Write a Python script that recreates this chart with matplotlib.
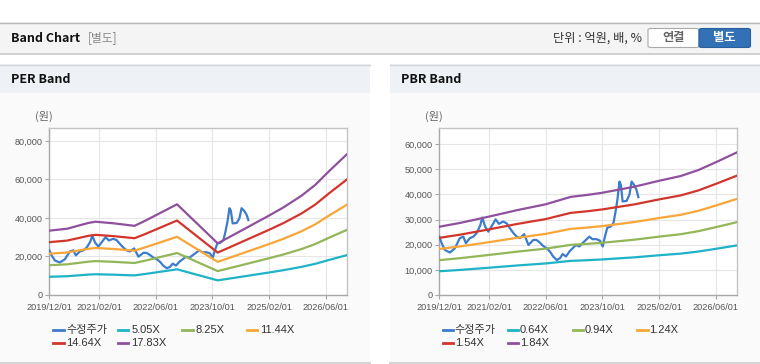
import pandas as pd
import matplotlib
matplotlib.use("Agg")
import matplotlib.pyplot as plt
from matplotlib.patches import Rectangle, FancyBboxPatch
from matplotlib.lines import Line2D

plt.rcParams['font.family'] = ['Liberation Sans', 'Noto Sans CJK KR']

W, H = 760, 364

# 수정주가 (same series in both panels)
price_dates = ['2019-12-01', '2019-12-21', '2020-01-18', '2020-03-01', '2020-04-13', '2020-05-25',
               '2020-06-24', '2020-07-16', '2020-08-19', '2020-09-18', '2020-10-16', '2020-11-15',
               '2020-12-04', '2020-12-28', '2021-01-25', '2021-02-24', '2021-03-28', '2021-04-25',
               '2021-06-01', '2021-07-01', '2021-07-28', '2021-08-28', '2021-09-25', '2021-10-22',
               '2021-11-28', '2022-01-04', '2022-02-15', '2022-03-13', '2022-04-13', '2022-05-10',
               '2022-06-10', '2022-07-07', '2022-08-04', '2022-09-04', '2022-10-01', '2022-10-25',
               '2022-11-22', '2022-12-22', '2023-01-19', '2023-02-16', '2023-03-16', '2023-04-13',
               '2023-05-12', '2023-06-10', '2023-07-07', '2023-08-12', '2023-09-10', '2023-10-03',
               '2023-10-22', '2023-11-12', '2023-12-10', '2024-01-03', '2024-01-19', '2024-02-06',
               '2024-02-24', '2024-03-07', '2024-03-22', '2024-04-25', '2024-05-19', '2024-06-07',
               '2024-06-28', '2024-07-19', '2024-08-04']
price = [23200, 20600, 17900, 16900, 18600, 22600,
         23200, 20600, 22600, 23200, 24600, 27500,
         30800, 27200, 25200, 27500, 30100, 28300,
         29200, 28500, 26600, 24600, 23200, 22600,
         24200, 19900, 21900, 21900, 20800, 19500,
         18600, 17300, 15300, 13900, 14600, 16300,
         15300, 17300, 18600, 19900, 19300, 20600,
         21900, 23200, 22200, 22200, 21600, 19300,
         23200, 26800, 27200, 28500, 32500, 37800,
         45100, 43800, 37200, 37400, 39800, 45100,
         43800, 41800, 38900]

# PER band base (EPS) and multiples
eps_dates = ['2019-12-01', '2020-05-01', '2020-11-01', '2021-01-01', '2021-06-01', '2021-12-01',
             '2022-03-01', '2022-12-01', '2023-11-15', '2024-05-01', '2025-02-01', '2025-06-01',
             '2025-11-01', '2026-03-01', '2026-07-01', '2026-12-01']
eps = [1875, 1930, 2100, 2135, 2090, 2015, 2160, 2643, 1505, 1812, 2320, 2552,
       2888, 3208, 3620, 4111]
per_labels = ['5.05X', '8.25X', '11.44X', '14.64X', '17.83X']
per_mult = [5.05, 8.25, 11.44, 14.64, 17.83]

# PBR band base (BPS) and multiples
bps_dates = ['2019-12-01', '2020-06-01', '2021-02-01', '2021-10-01', '2022-06-01', '2023-01-01',
             '2023-06-01', '2023-10-01', '2024-07-01', '2025-02-01', '2025-08-01', '2026-01-01',
             '2026-06-01', '2026-12-01']
bps = [14750, 15600, 16950, 18350, 19600, 21200, 21650, 22100, 23400, 24700, 25700, 27000, 28700, 30850]
pbr_labels = ['0.64X', '0.94X', '1.24X', '1.54X', '1.84X']
pbr_mult = [0.64, 0.94, 1.24, 1.54, 1.84]

tick_dates = ['2019-12-01', '2021-02-01', '2022-06-01', '2023-10-01', '2025-02-01', '2026-06-01']

price_color = '#3d7ccc'
band_colors = ['#1eb3c7', '#92b658', '#f7a637', '#d3352c', '#8f509e']


def fx(x):
    return x / W


def fy(y):
    return 1 - y / H


def rect(x0, y0, x1, y1, color, **kw):
    fig.patches.append(Rectangle((fx(x0), fy(y1)), (x1 - x0) / W, (y1 - y0) / H,
                                 transform=fig.transFigure, facecolor=color,
                                 edgecolor='none', zorder=-10, **kw))


def hline(x0, x1, y, color, lw=1):
    fig.lines.append(Line2D([fx(x0), fx(x1)], [fy(y), fy(y)], transform=fig.transFigure,
                            color=color, lw=lw, zorder=-5))


fig = plt.figure(figsize=(W / 100, H / 100), dpi=100)
fig.patch.set_facecolor('white')

# top header
rect(0, 22, W, 53, '#f4f4f4')
hline(0, W, 22.5, '#b8b8b8')
hline(0, W, 53.5, '#c8c8c8', lw=1.2)
fig.text(fx(11), fy(38), 'Band Chart', fontsize=9, fontweight='bold', color='#111',
         family=['Noto Sans CJK KR'], va='center')
fig.text(fx(88), fy(38), '[별도]', fontsize=8.5, color='#888', family=['Noto Sans CJK KR'], va='center')
fig.text(fx(642), fy(38), '단위 : 억원, 배, %', fontsize=8.8, color='#333',
         family=['Noto Sans CJK KR', 'DejaVu Sans'], va='center', ha='right')

fig.patches.append(FancyBboxPatch((fx(648), fy(47.5)), 51 / W, 19 / H,
                                  boxstyle='round,pad=0,rounding_size=0.004',
                                  transform=fig.transFigure, facecolor='white',
                                  edgecolor='#aaaaaa', lw=0.8))
fig.patches.append(FancyBboxPatch((fx(699), fy(47.5)), 51.5 / W, 19 / H,
                                  boxstyle='round,pad=0,rounding_size=0.004',
                                  transform=fig.transFigure, facecolor='#3371b6',
                                  edgecolor='#2a5f9e', lw=0.8))
fig.text(fx(673.5), fy(38), '연결', fontsize=8.8, fontweight='bold', color='#666',
         family=['Noto Sans CJK KR'], ha='center', va='center')
fig.text(fx(724.5), fy(38), '별도', fontsize=8.8, fontweight='bold', color='white',
         family=['Noto Sans CJK KR'], ha='center', va='center')


def draw_panel(px0, px1, title):
    rect(px0, 64, px1, 93, '#eef1f6')
    rect(px0, 93, px1, 362, '#fafafa')
    hline(px0, px1, 64.5, '#d4d4d4')
    hline(px0, px1, 362.5, '#d4d4d4', lw=1.5)
    fig.text(fx(px0 + 11), fy(79.5), title, fontsize=9, fontweight='bold', color='#111',
             family=['Noto Sans CJK KR'], va='center')


def draw_chart(ax_x0, base_dates, base, mults, labels, ymax, ystep, leg):
    ax = fig.add_axes([fx(ax_x0), fy(295), 298 / W, 167 / H])
    ax.set_zorder(2)
    ax.set_facecolor('white')
    ax.plot(pd.to_datetime(price_dates), price, color=price_color, lw=1.6, zorder=3)
    bd = pd.to_datetime(base_dates)
    for m, c in zip(mults, band_colors):
        ax.plot(bd, [v * m for v in base], color=c, lw=1.6, zorder=3)
    ax.set_xlim(pd.Timestamp('2019-12-01'), pd.Timestamp('2026-12-01'))
    ax.set_ylim(0, ymax)
    ticks = list(range(0, int(ymax), ystep))
    ax.set_yticks(ticks)
    ax.set_yticklabels([f'{t:,}' for t in ticks])
    td = pd.to_datetime(tick_dates)
    ax.set_xticks(td)
    ax.set_xticklabels([d.strftime('%Y/%m/%d') for d in td])
    ax.grid(True, color='#e6e6e6', lw=0.8, zorder=0)
    ax.set_axisbelow(True)
    for s in ax.spines.values():
        s.set_color('#c4c4c4')
        s.set_linewidth(1)
    ax.spines['left'].set_color('#a8a8a8')
    ax.spines['bottom'].set_color('#a8a8a8')
    ax.tick_params(axis='both', length=3, color='#a8a8a8', labelcolor='#555', labelsize=6.6)
    ax.tick_params(axis='x', pad=3)
    ax.tick_params(axis='y', pad=2)
    fig.text(fx(ax_x0 - 5), fy(116), '(원)', fontsize=8, color='#666',
             family=['Noto Sans CJK KR'], ha='center', va='center')

    # legend entries, laid out like the source (4 per row)
    names = ['수정주가'] + labels
    cols = [price_color] + band_colors
    lx0, gap, step = leg
    for i, (n, c) in enumerate(zip(names, cols)):
        r, k = divmod(i, 4)
        x = lx0 + k * step
        y = 330 + r * 13.3
        fig.lines.append(Line2D([fx(x), fx(x + 10.5)], [fy(y), fy(y)],
                                transform=fig.transFigure, color=c, lw=2))
        fig.text(fx(x + 10.5 + gap), fy(y), n, fontsize=8, color='#333',
                 family=['Liberation Sans', 'Noto Sans CJK KR'], va='center')
    return ax


draw_panel(0, 370, 'PER Band')
draw_panel(390, W, 'PBR Band')

draw_chart(49.3, eps_dates, eps, per_mult, per_labels, 86750, 20000, (53, 3, 64.6))
draw_chart(439.3, bps_dates, bps, pbr_mult, pbr_labels, 66400, 10000, (442.7, 1.5, 64.9))

fig.savefig('out.png', dpi=100)
